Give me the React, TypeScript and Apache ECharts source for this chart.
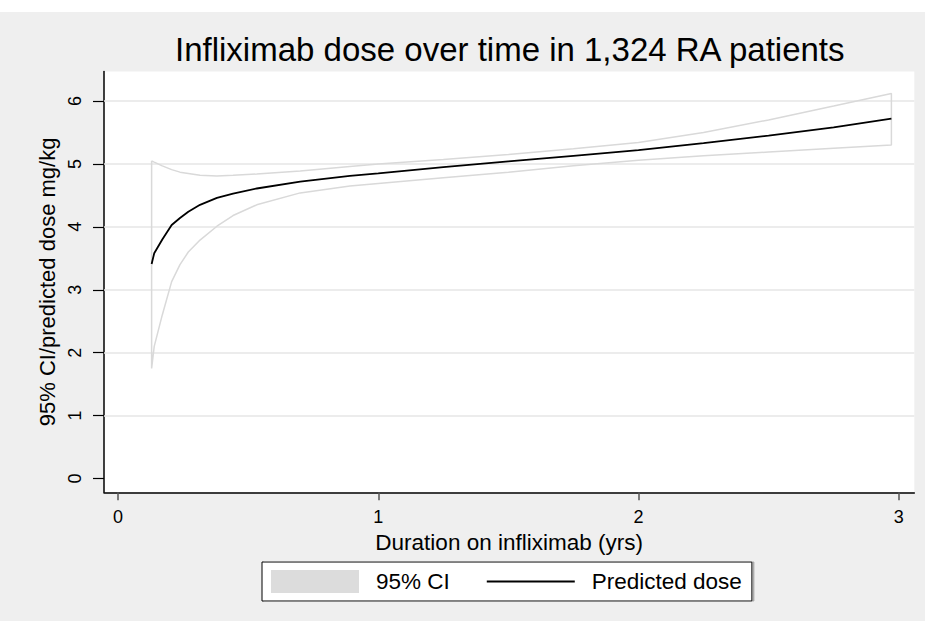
import React, { useEffect, useRef } from 'react';
import * as echarts from 'echarts';

const durationYrs = [0.129, 0.139, 0.17, 0.206, 0.238, 0.27, 0.315, 0.38, 0.442, 0.533, 0.7, 0.891, 1.0, 1.25, 1.5, 1.75, 2.0, 2.25, 2.5, 2.75, 2.972];
const predictedDose = [3.41, 3.58, 3.80, 4.03, 4.14, 4.24, 4.35, 4.46, 4.53, 4.61, 4.72, 4.81, 4.85, 4.95, 5.04, 5.13, 5.22, 5.33, 5.45, 5.58, 5.72];
const ciUpper = [5.05, 5.03, 4.97, 4.91, 4.87, 4.85, 4.82, 4.81, 4.82, 4.84, 4.89, 4.96, 5.0, 5.07, 5.15, 5.24, 5.34, 5.5, 5.7, 5.92, 6.12];
const ciLower = [1.75, 2.10, 2.6, 3.13, 3.40, 3.6, 3.79, 4.01, 4.18, 4.35, 4.54, 4.65, 4.69, 4.78, 4.87, 4.97, 5.06, 5.13, 5.19, 5.25, 5.30];
const xTickValues = [0, 1, 2, 3];
const yTickValues = [0, 1, 2, 3, 4, 5, 6];
const gridLineValues = [1, 2, 3, 4, 5, 6];

const FONT = "'Liberation Sans', Arial, sans-serif";

export default function App() {
  const ref = useRef<HTMLDivElement>(null);
  useEffect(() => {
    const chart = echarts.init(ref.current as HTMLDivElement, null, { renderer: 'svg' });
    const predicted = durationYrs.map((x, i) => [x, predictedDose[i]]);
    const upperPts = durationYrs.map((x, i) => [x, ciUpper[i]]);
    const lowerPts = durationYrs.map((x, i) => [x, ciLower[i]]).reverse();
    const ciOutline = [...upperPts, ...lowerPts, upperPts[0]];

    chart.setOption({
      animation: false,
      backgroundColor: 'transparent',
      textStyle: { fontFamily: FONT },
      title: {
        text: 'Infliximab dose over time in 1,324 RA patients',
        left: 170,
        top: 28,
        textStyle: { fontSize: 33, fontWeight: 'normal', color: '#000', fontFamily: FONT },
      },
      grid: {
        left: 104,
        top: 71.5,
        right: 10.7,
        bottom: 128.7,
        show: true,
        backgroundColor: '#fff',
        borderWidth: 0,
        containLabel: false,
      },
      legend: {
        left: 262,
        top: 562,
        padding: [8, 10, 8, 9],
        itemWidth: 88,
        itemHeight: 23,
        itemGap: 36,
        borderColor: '#000',
        borderWidth: 1,
        backgroundColor: '#fff',
        shadowColor: '#aaa',
        shadowOffsetX: 2,
        shadowOffsetY: 0,
        shadowBlur: 0,
        selectedMode: false,
        textStyle: { fontSize: 22.5, color: '#000', fontFamily: FONT, padding: [0, 0, 0, 12] },
        data: [
          { name: '95% CI', icon: 'rect', itemStyle: { color: '#dcdcdc', borderWidth: 0 } },
          { name: 'Predicted dose', itemStyle: { color: 'rgba(0,0,0,0)', borderWidth: 0, opacity: 0 } },
        ],
      },
      xAxis: {
        type: 'value',
        min: -0.054,
        max: 3.06,
        name: 'Duration on infliximab (yrs)',
        nameLocation: 'middle',
        nameGap: 35,
        nameTextStyle: { fontSize: 22.5, color: '#000', fontFamily: FONT },
        axisLine: { show: true, onZero: false, lineStyle: { color: '#000', width: 1.5 } },
        axisTick: { show: true, length: 8, customValues: xTickValues, lineStyle: { color: '#555', width: 1.5 } },
        axisLabel: { customValues: xTickValues, fontSize: 18, color: '#000', margin: 16, fontFamily: FONT },
        splitLine: { show: false },
      },
      yAxis: {
        type: 'value',
        min: -0.22,
        max: 6.47,
        name: '95% CI/predicted dose mg/kg',
        nameLocation: 'middle',
        nameGap: 41,
        nameTextStyle: { fontSize: 22, color: '#000', fontFamily: FONT },
        axisLine: { show: true, onZero: false, lineStyle: { color: '#000', width: 1.5 } },
        axisTick: { show: true, length: 11, customValues: yTickValues, lineStyle: { color: '#000', width: 1.2 } },
        axisLabel: { customValues: yTickValues, rotate: 90, fontSize: 18, color: '#000', margin: 20, fontFamily: FONT },
        splitLine: { show: false },
      },
      series: [
        {
          name: '95% CI',
          type: 'line',
          data: ciOutline,
          symbol: 'none',
          z: 3,
          lineStyle: { color: '#d9d9d9', width: 1.5 },
          itemStyle: { color: '#dcdcdc' },
        },
        {
          name: 'Predicted dose',
          type: 'line',
          data: predicted,
          symbol: 'none',
          z: 4,
          lineStyle: { color: '#000', width: 1.8 },
          itemStyle: { color: '#000' },
          markLine: {
            silent: true,
            symbol: ['none', 'none'],
            z: 1,
            label: { show: false },
            lineStyle: { color: '#e6e6e6', width: 1.5, type: 'solid' },
            data: gridLineValues.map((v) => ({ yAxis: v })),
          },
        },
      ],
    });
    return () => chart.dispose();
  }, []);
  return (
    <div
      ref={ref}
      style={{
        position: 'fixed',
        left: 0,
        top: 0,
        width: 925,
        height: 621,
        background: 'linear-gradient(to bottom, #fff 0px, #fff 12px, #efefef 12px, #efefef 100%)',
      }}
    />
  );
}
